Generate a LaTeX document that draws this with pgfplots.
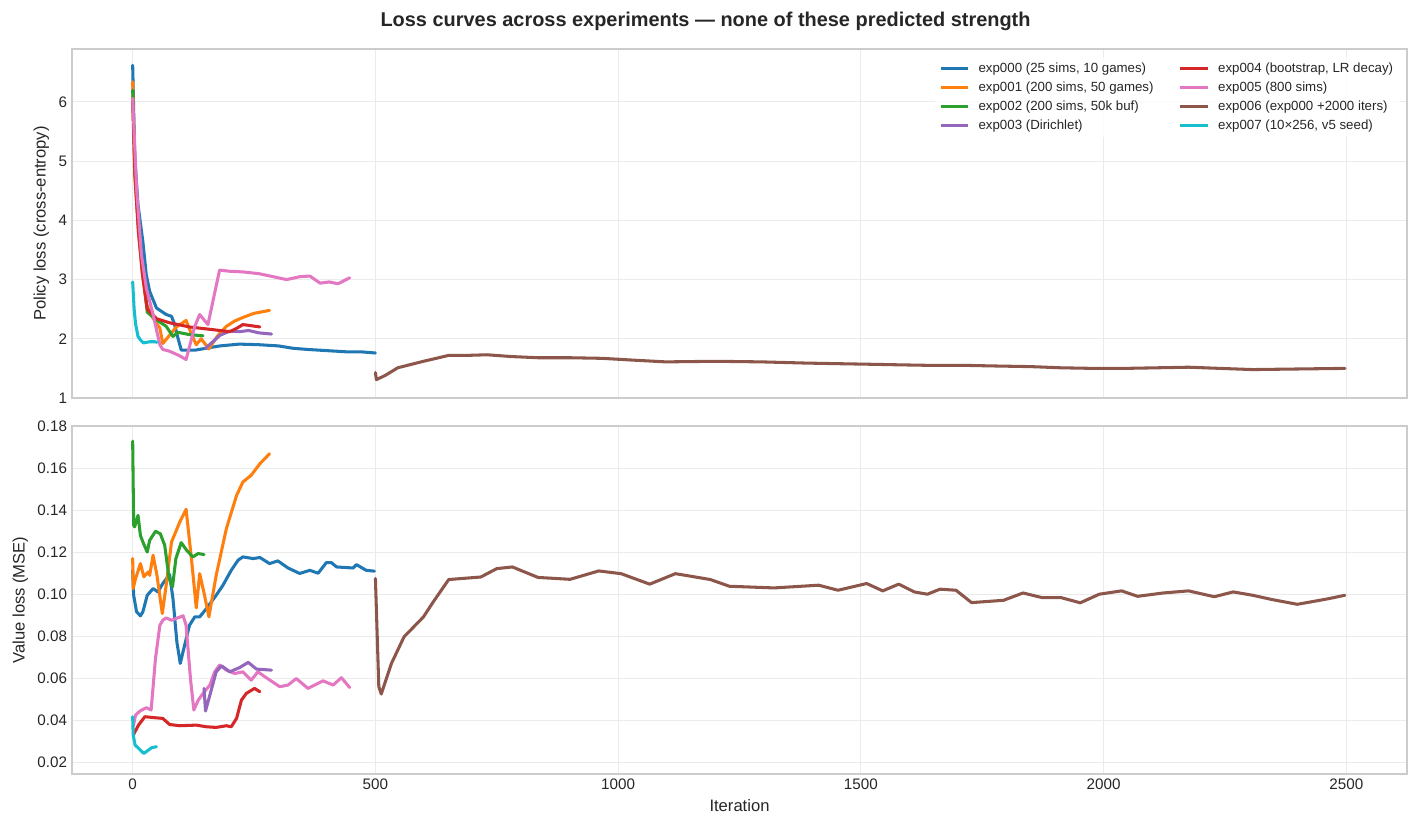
\documentclass[border=0pt]{standalone}
\usepackage{fontspec}
\setmainfont{Liberation Sans}
\usepackage{pgfplots}
\pgfplotsset{compat=1.18}
\definecolor{c0}{HTML}{1F77B4}
\definecolor{c1}{HTML}{FF7F0E}
\definecolor{c2}{HTML}{2CA02C}
\definecolor{c3}{HTML}{D62728}
\definecolor{c4}{HTML}{9467BD}
\definecolor{c5}{HTML}{8C564B}
\definecolor{c6}{HTML}{E377C2}
\definecolor{c7}{HTML}{17BECF}
\definecolor{axisgray}{HTML}{CCCCCC}
\definecolor{gridgray}{HTML}{EBEBEB}
\definecolor{txt}{HTML}{262626}
\pgfplotsset{
  mystyle/.style={
    scale only axis, width=961.2bp,
    xmin=-125, xmax=2625,
    axis line style={draw=axisgray, line width=0.9bp},
    grid=major, major grid style={draw=gridgray, line width=0.7bp},
    major tick length=0pt,
    tick label style={font=\fontsize{11}{13}\selectfont, text=txt},
    label style={font=\fontsize{12}{14}\selectfont, text=txt},
    /pgf/number format/assume math mode=true,
    /pgf/number format/1000 sep={},
    xtick={0,500,1000,1500,2000,2500},
    every axis plot/.append style={line width=2.2bp, line join=round, line cap=round, mark=none},
    legend image code/.code={\draw[#1, line width=2.2bp, line cap=butt] (0bp,0bp) -- (20bp,0bp); \path (24.3bp,0bp);},
  }
}
\begin{document}
\begin{tikzpicture}
\useasboundingbox (0,0) rectangle (1020.96bp,596.88bp);
\node[font=\fontsize{14.4}{17}\selectfont\bfseries, text=txt] at (508bp,581.5bp) {Loss curves across experiments — none of these predicted strength};
% ---------------- top axis ----------------
\begin{axis}[mystyle, at={(51.84bp,310.32bp)}, anchor=south west, height=251.28bp,
  ymin=1, ymax=6.895, ytick={1,2,3,4,5,6}, xticklabels={},
  ylabel={Policy loss (cross-entropy)},
  legend columns=4, transpose legend, legend cell align=left,
  legend style={at={(0.995,0.977)}, anchor=north east, draw=none, fill=white, fill opacity=0.8, text opacity=1,
    font=\fontsize{9.6}{11.5}\selectfont, text=txt, row sep=1.3bp,
    /tikz/column 2/.style={column sep=16bp}},
]
\addplot[c0] coordinates {(0,6.62) (4,5.11) (11,4.26) (21,3.64) (28,3.08) (35,2.80) (49,2.52) (69,2.41) (80,2.38) (86,2.25) (93,2.02) (100,1.81) (130,1.81) (158,1.85) (180,1.88) (220,1.91) (260,1.90) (300,1.88) (330,1.84) (360,1.82) (400,1.80) (440,1.78) (470,1.78) (500,1.76)};
\addlegendentry{exp000 (25 sims, 10 games)}
\addplot[c1] coordinates {(0,6.34) (4,4.82) (12,3.8) (20,3.1) (28,2.6) (38,2.4) (50,2.25) (56,2.18) (62,1.92) (75,2.05) (90,2.2) (110,2.31) (120,2.1) (131,1.90) (141,2.0) (157,1.83) (175,2.05) (193,2.21) (210,2.3) (227,2.36) (250,2.43) (282,2.48)};
\addlegendentry{exp001 (200 sims, 50 games)}
\addplot[c2] coordinates {(0,6.2) (5,4.8) (12,3.9) (20,3.2) (25,2.86) (30,2.45) (40,2.38) (49,2.32) (69,2.21) (83,2.04) (93,2.11) (117,2.07) (145,2.05)};
\addlegendentry{exp002 (200 sims, 50k buf)}
\addplot[c4] coordinates {(150,1.84) (165,1.95) (180,2.06) (200,2.13) (220,2.12) (239,2.14) (260,2.10) (286,2.08)};
\addlegendentry{exp003 (Dirichlet)}
\addplot[c3] coordinates {(0,6.0) (5,4.7) (12,3.8) (20,3.1) (30,2.5) (40,2.42) (49,2.34) (76,2.27) (117,2.20) (159,2.16) (200,2.12) (215,2.18) (227,2.24) (245,2.22) (262,2.20)};
\addlegendentry{exp004 (bootstrap, LR decay)}
\addplot[c6] coordinates {(0,6.06) (8,4.54) (18,3.42) (28,2.86) (42,2.41) (56,1.90) (62,1.82) (76,1.79) (95,1.72) (110,1.65) (128,2.21) (138,2.41) (155,2.24) (179,3.16) (200,3.14) (227,3.13) (260,3.10) (283,3.06) (317,3.0) (345,3.05) (365,3.06) (386,2.94) (405,2.96) (423,2.93) (447,3.03)};
\addlegendentry{exp005 (800 sims)}
\addplot[c5] coordinates {(500,1.43) (502,1.31) (520,1.38) (546,1.51) (570,1.56) (599,1.62) (620,1.66) (651,1.72) (690,1.72) (730,1.73) (780,1.70) (835,1.68) (900,1.68) (967,1.67) (1030,1.64) (1098,1.61) (1200,1.62) (1295,1.61) (1386,1.59) (1450,1.58) (1518,1.57) (1580,1.56) (1650,1.55) (1720,1.55) (1781,1.54) (1850,1.53) (1912,1.51) (1980,1.50) (2043,1.50) (2110,1.51) (2175,1.52) (2240,1.50) (2307,1.48) (2400,1.49) (2497,1.50)};
\addlegendentry{exp006 (exp000 +2000 iters)}
\addplot[c7] coordinates {(0,2.96) (3,2.5) (6,2.25) (11,2.04) (16,1.98) (22,1.93) (35,1.95) (46,1.95) (50,1.94)};
\addlegendentry{exp007 (10×256, v5 seed)}
\end{axis}
% ---------------- bottom axis ----------------
\begin{axis}[mystyle, at={(51.84bp,39.6bp)}, anchor=south west, height=250.56bp,
  ymin=0.01429, ymax=0.1802, ytick={0.02,0.04,0.06,0.08,0.10,0.12,0.14,0.16,0.18},
  yticklabel style={/pgf/number format/.cd, fixed, fixed zerofill, precision=2},
  ylabel={Value loss (MSE)}, xlabel={Iteration},
]
\addplot[c0] coordinates {(0,0.1114) (2,0.0995) (8,0.0916) (16,0.0897) (21,0.0916) (30,0.0995) (42,0.1027) (52,0.1011) (62,0.1051) (76,0.1094) (83,0.0979) (91,0.0773) (98,0.0670) (107,0.0757) (117,0.0852) (128,0.0892) (138,0.0892) (152,0.0932) (172,0.0995) (186,0.1043) (203,0.1114) (217,0.1162) (227,0.1178) (248,0.1170) (262,0.1175) (282,0.1146) (299,0.1159) (320,0.1125) (344,0.1099) (365,0.1114) (382,0.1100) (399,0.1151) (409,0.1151) (420,0.1130) (454,0.1125) (461,0.1141) (481,0.1114) (498,0.1110)};
\addplot[c1] coordinates {(0,0.117) (1,0.1027) (6,0.1075) (16,0.1146) (23,0.1083) (32,0.1106) (35,0.1090) (42,0.1186) (50,0.1090) (61,0.0908) (69,0.1043) (80,0.1249) (97,0.1344) (110,0.1405) (121,0.117) (131,0.0935) (138,0.1098) (148,0.0995) (157,0.0892) (172,0.1090) (193,0.1313) (214,0.1471) (227,0.1535) (244,0.1567) (262,0.1622) (282,0.1670)};
\addplot[c2] coordinates {(0,0.1730) (2,0.1329) (4,0.1321) (11,0.1376) (16,0.128) (21,0.1249) (30,0.1201) (35,0.1257) (47,0.1300) (57,0.1288) (66,0.1233) (75,0.1075) (82,0.1035) (89,0.117) (100,0.1246) (111,0.1210) (124,0.1178) (135,0.1194) (147,0.1189)};
\addplot[c6] coordinates {(1,0.0368) (6,0.0424) (15,0.0443) (28,0.0459) (38,0.0448) (47,0.0694) (56,0.0852) (62,0.0876) (69,0.0887) (80,0.0876) (104,0.0897) (110,0.0852) (119,0.0598) (126,0.0448) (135,0.0495) (145,0.0527) (159,0.0567) (169,0.0630) (179,0.0662) (193,0.0638) (210,0.0622) (227,0.0630) (244,0.0590) (258,0.0630) (275,0.0602) (303,0.0559) (320,0.0567) (337,0.0598) (361,0.0551) (392,0.0587) (413,0.0567) (430,0.0602) (447,0.0555)};
\addplot[c4] coordinates {(147,0.0551) (150,0.0443) (159,0.0519) (172,0.063) (183,0.0659) (200,0.063) (220,0.065) (238,0.0675) (255,0.0643) (286,0.0638)};
\addplot[c3] coordinates {(2,0.0332) (12,0.0376) (25,0.0416) (47,0.0411) (62,0.0408) (76,0.0379) (97,0.0373) (131,0.0376) (152,0.0368) (172,0.0365) (193,0.0373) (203,0.0368) (214,0.0408) (224,0.0495) (234,0.0527) (251,0.0551) (262,0.0535)};
\addplot[c7] coordinates {(0,0.0416) (1,0.0329) (5,0.0281) (23,0.0241) (39,0.0268) (49,0.0273)};
\addplot[c5] coordinates {(500,0.1075) (507,0.0559) (512,0.0524) (533,0.067) (559,0.0797) (599,0.0892) (619,0.0963) (651,0.1070) (717,0.1082) (750,0.1122) (782,0.1130) (835,0.1080) (901,0.1071) (960,0.1111) (1006,0.1098) (1065,0.1048) (1118,0.1098) (1190,0.1070) (1229,0.1038) (1321,0.1030) (1413,0.1043) (1453,0.1019) (1512,0.1051) (1545,0.1016) (1578,0.1048) (1610,0.1011) (1637,0.1000) (1663,0.1024) (1696,0.1019) (1728,0.0960) (1794,0.0971) (1834,0.1006) (1873,0.0984) (1912,0.0984) (1952,0.0959) (1991,0.1000) (2037,0.1016) (2070,0.0990) (2123,0.1006) (2175,0.1016) (2228,0.0988) (2267,0.1011) (2307,0.0995) (2346,0.0975) (2399,0.0952) (2438,0.0968) (2464,0.0979) (2497,0.0995)};
\end{axis}
\end{tikzpicture}
\end{document}
